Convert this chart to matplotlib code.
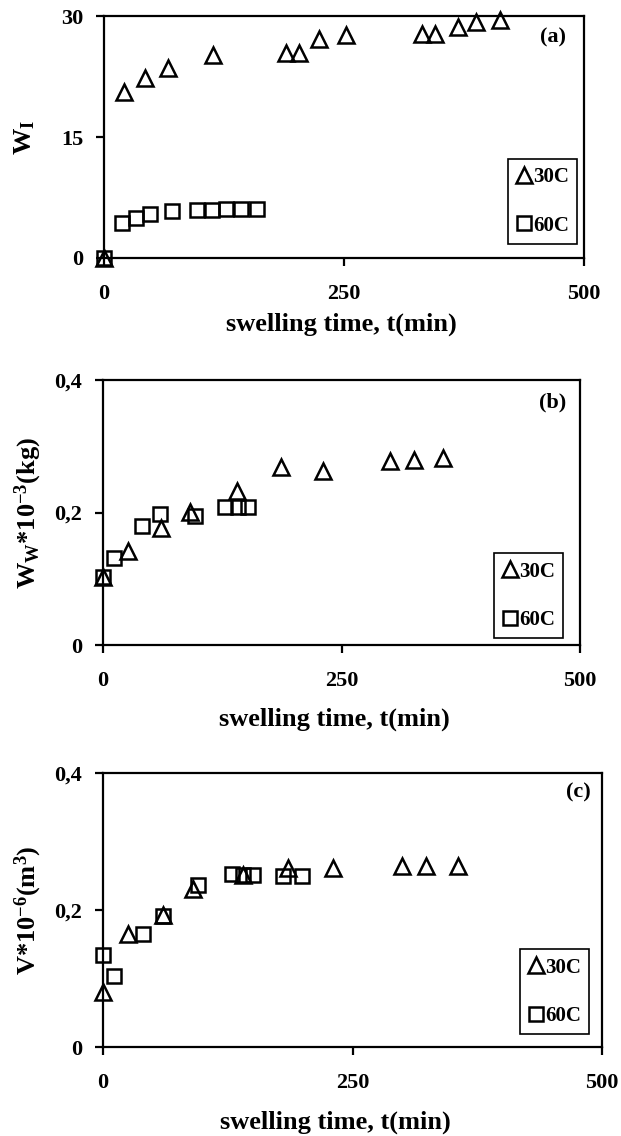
import numpy as np
import matplotlib
matplotlib.use('Agg')
import matplotlib.pyplot as plt
from matplotlib import rcParams

rcParams['font.family'] = ['Liberation Serif', 'DejaVu Serif']
rcParams['font.weight'] = 'bold'
rcParams['mathtext.fontset'] = 'custom'
rcParams['mathtext.rm'] = 'Liberation Serif:bold'
rcParams['mathtext.bf'] = 'Liberation Serif:bold'
rcParams['mathtext.it'] = 'Liberation Serif:bold'
rcParams['mathtext.default'] = 'bf'
rcParams['xtick.direction'] = 'out'
rcParams['ytick.direction'] = 'out'

# (a) W_I
a_t30 = [0, 21, 43, 67, 114, 190, 203, 224, 252, 331, 345, 369, 387, 412]
a_w30 = [0, 20.6, 22.3, 23.6, 25.2, 25.4, 25.4, 27.2, 27.7, 27.8, 27.8, 28.6, 29.3, 29.5]
a_t60 = [0, 19, 33, 48, 71, 97, 112, 127, 143, 159]
a_w60 = [0, 4.3, 5.0, 5.4, 5.8, 5.9, 6.0, 6.1, 6.1, 6.1]

# (b) W_W
b_t30 = [0, 26, 61, 91, 140, 186, 231, 301, 326, 356]
b_w30 = [0.103, 0.142, 0.177, 0.201, 0.232, 0.268, 0.263, 0.278, 0.280, 0.283]
b_t60 = [0, 11, 41, 60, 96, 128, 141, 152]
b_w60 = [0.102, 0.132, 0.179, 0.197, 0.194, 0.209, 0.209, 0.209]

# (c) V
c_t30 = [0, 25, 60, 90, 140, 185, 230, 300, 324, 356]
c_v30 = [0.081, 0.165, 0.193, 0.230, 0.251, 0.262, 0.262, 0.264, 0.264, 0.264]
c_t60 = [0, 11, 40, 60, 95, 129, 140, 150, 180, 199]
c_v60 = [0.134, 0.104, 0.165, 0.191, 0.236, 0.252, 0.251, 0.251, 0.250, 0.250]

panels = [
    dict(pos=[0.1675, 0.7729, 0.773, 0.2130], t30=a_t30, y30=a_w30, t60=a_t60, y60=a_w60,
         ylim=30, yticks=[0, 15, 30], ylabels=['0', '15', '30'], ylabel='W$_{\\mathrm{I}}$',
         ylx=-0.165, xlx=0.494, xpad=6,
         tag='(a)', tagpos=(0.935, 0.913), legpos=(0.986, 0.058)),
    dict(pos=[0.166, 0.4322, 0.768, 0.2333], t30=b_t30, y30=b_w30, t60=b_t60, y60=b_w60,
         ylim=0.4, yticks=[0, 0.2, 0.4], ylabels=['0', '0,2', '0,4'],
         ylabel='W$_{\\mathrm{W}}$*10$^{-3}$(kg)', ylx=-0.157, xlx=0.486, xpad=12,
         tag='(b)', tagpos=(0.943, 0.917), legpos=(0.965, 0.026)),
    dict(pos=[0.166, 0.0783, 0.8035, 0.2412], t30=c_t30, y30=c_v30, t60=c_t60, y60=c_v60,
         ylim=0.4, yticks=[0, 0.2, 0.4], ylabels=['0', '0,2', '0,4'],
         ylabel='V*10$^{-6}$(m$^{3}$)', ylx=-0.150, xlx=0.465, xpad=12,
         tag='(c)', tagpos=(0.952, 0.93), legpos=(0.974, 0.047)),
]

fig = plt.figure(figsize=(6.21, 11.36), dpi=100)
for p in panels:
    ax = fig.add_axes(p['pos'])
    ax.plot(p['t30'], p['y30'], '^', ms=11, mfc='none', mec='k', mew=1.8,
            ls='none', clip_on=False, label='30C')
    ax.plot(p['t60'], p['y60'], 's', ms=10, mfc='none', mec='k', mew=1.8,
            ls='none', clip_on=False, label='60C')
    ax.set_xlim(0, 500)
    ax.set_ylim(0, p['ylim'])
    ax.set_xticks([0, 250, 500])
    ax.set_yticks(p['yticks'])
    ax.set_yticklabels(p['ylabels'])
    ax.tick_params(labelsize=16, width=1.6, length=6, pad=9)
    ax.tick_params(axis='x', pad=13)
    for s in ax.spines.values():
        s.set_linewidth(1.6)
    ax.set_xlabel('swelling time, t(min)', fontsize=19, fontweight='bold', labelpad=p['xpad'])
    ax.xaxis.label.set_x(p['xlx'])
    ax.set_ylabel(p['ylabel'], fontsize=19, fontweight='bold')
    ax.yaxis.label.set_va('center')
    ax.yaxis.set_label_coords(p['ylx'], 0.5)
    ax.text(p['tagpos'][0], p['tagpos'][1], p['tag'], transform=ax.transAxes,
            ha='center', va='center', fontsize=16, fontweight='bold')
    leg = ax.legend(loc='lower right', bbox_to_anchor=p['legpos'], fancybox=False,
                    edgecolor='k', fontsize=15, handlelength=0.7, handletextpad=0.1,
                    borderpad=0.4, labelspacing=1.35, framealpha=1, borderaxespad=0)
    leg.get_frame().set_linewidth(1.2)

fig.savefig('out.png', dpi=100)
